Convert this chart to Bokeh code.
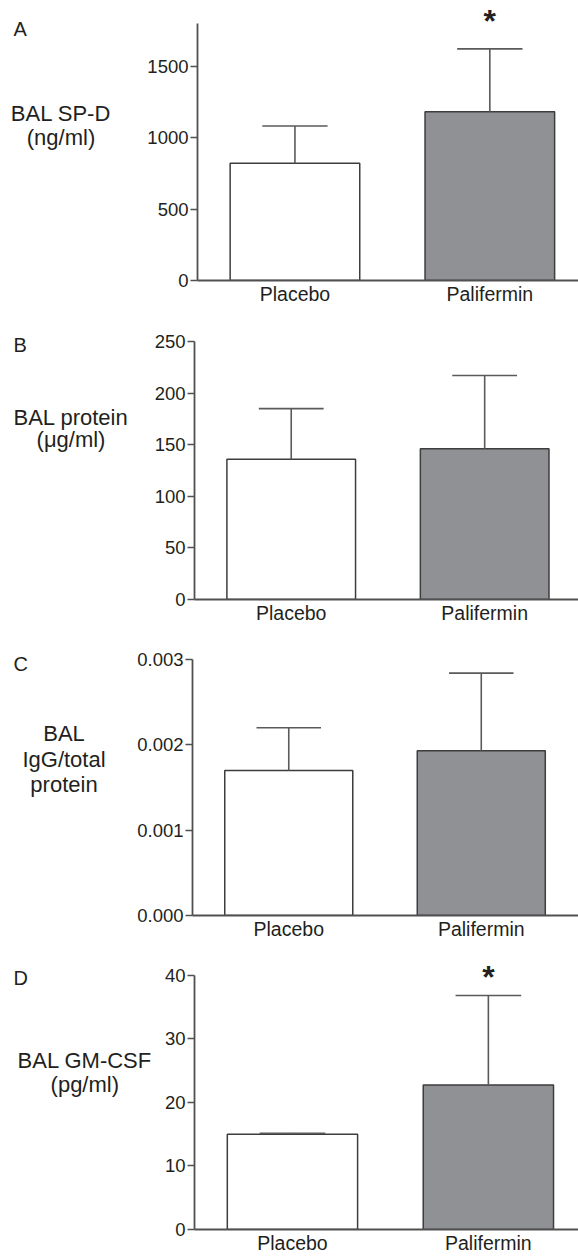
from bokeh.plotting import figure
from bokeh.models import FixedTicker, Range1d, Plot
from bokeh.layouts import column, row
from bokeh.core.properties import value
from bokeh.embed import file_html
from bokeh.resources import INLINE

groups = ["Placebo", "Palifermin"]
group_pos = [1, 3]

spd_mean = [820, 1180]
spd_err = [260, 440]
spd_ticks = [0, 500, 1000, 1500]
spd_tick_labels = ["0", "500", "1000", "1500"]

prot_mean = [136, 146]
prot_err = [49, 71]
prot_ticks = [0, 50, 100, 150, 200, 250]
prot_tick_labels = ["0", "50", "100", "150", "200", "250"]

igg_mean = [0.00170, 0.00193]
igg_err = [0.00050, 0.00091]
igg_ticks = [0.0, 0.001, 0.002, 0.003]
igg_tick_labels = ["0.000", "0.001", "0.002", "0.003"]

gm_mean = [15.0, 22.75]
gm_err = [0.15, 14.1]
gm_ticks = [0, 10, 20, 30, 40]
gm_tick_labels = ["0", "10", "20", "30", "40"]

FONT = "Liberation Sans"
TXT = "#231f20"
BAR_FILL = ["#ffffff", "#909194"]
BAR_LINE = "#3d3d3d"
ERR_COL = "#5a5a5a"
AXIS_COL = "#505050"
W = 578
HAS_FRAME_ALIGN = "frame_align" in Plot.properties()
TEXT_SHIFT = 5


def label_fig(width, height, letter, letter_base, ylab, ylab_cx, ylab_bases,
              top, bottom):
    if HAS_FRAME_ALIGN:
        bt, bb = 0, 0
    else:
        bt, bb = top, bottom
    q = figure(width=width, height=height, output_backend="svg", toolbar_location=None,
               x_range=Range1d(0, width), y_range=Range1d(height - bb, bt),
               x_axis_location=None, y_axis_location=None,
               min_border_left=0, min_border_right=0, min_border_top=bt,
               min_border_bottom=bb)
    if HAS_FRAME_ALIGN:
        q.frame_align = False
    q.outline_line_color = None
    q.xgrid.visible = False
    q.ygrid.visible = False
    q.text(x=[13], y=[letter_base - TEXT_SHIFT], text=[letter], text_font=value(FONT),
           text_font_size="20px", text_color=TXT, text_align="left",
           text_baseline="alphabetic")
    q.text(x=[ylab_cx] * len(ylab), y=[b - TEXT_SHIFT for b in ylab_bases], text=ylab,
           text_font=value(FONT), text_font_size="22px", text_color=TXT,
           text_align="center", text_baseline="alphabetic")
    return q


def panel(means, errs, ticks, tlabels, axis_top, y_px_per_unit,
          width, left, top, bottom, height, x_end, star=None):
    frame_h = height - top - bottom
    y_end = frame_h / y_px_per_unit

    p = figure(width=width, height=height, output_backend="svg", toolbar_location=None,
               x_range=Range1d(0, x_end), y_range=Range1d(0, y_end),
               min_border_left=left, min_border_right=0, min_border_top=top,
               min_border_bottom=bottom)
    if HAS_FRAME_ALIGN:
        p.frame_align = False
    p.outline_line_color = None
    p.xgrid.visible = False
    p.ygrid.visible = False
    p.background_fill_color = "white"

    p.vbar(x=group_pos, top=means, width=1.33, bottom=0, fill_color=BAR_FILL,
           line_color=BAR_LINE, line_width=1.5)
    uppers = [m + e for m, e in zip(means, errs)]
    p.segment(x0=group_pos, y0=means, x1=group_pos, y1=uppers,
              line_color=ERR_COL, line_width=1.6)
    p.segment(x0=[g - 0.335 for g in group_pos], y0=uppers,
              x1=[g + 0.335 for g in group_pos], y1=uppers,
              line_color=ERR_COL, line_width=1.6)

    ya = p.yaxis[0]
    ya.ticker = FixedTicker(ticks=ticks)
    ya.major_label_overrides = {t: l for t, l in zip(ticks, tlabels)}
    ya.bounds = (0, axis_top)
    ya.minor_tick_line_color = None
    ya.major_tick_out = 7
    ya.major_tick_in = 0
    ya.major_label_standoff = 2
    ya.axis_line_color = AXIS_COL
    ya.axis_line_width = 1.8
    ya.major_tick_line_color = AXIS_COL
    ya.major_tick_line_width = 1.5
    ya.major_label_text_font = FONT
    ya.major_label_text_font_size = "18.5px"
    ya.major_label_text_color = TXT

    xa = p.xaxis[0]
    xa.ticker = FixedTicker(ticks=group_pos)
    xa.major_label_overrides = {g: n for g, n in zip(group_pos, groups)}
    xa.minor_tick_line_color = None
    xa.major_tick_line_color = None
    xa.major_tick_out = 0
    xa.major_tick_in = 0
    xa.major_label_standoff = 2
    xa.axis_line_color = AXIS_COL
    xa.axis_line_width = 1.8
    xa.major_label_text_font = FONT
    xa.major_label_text_font_size = "19.5px"
    xa.major_label_text_color = TXT

    if star is not None:
        idx, star_center = star
        base_px = star_center + 3
        y_star = (height - bottom - base_px) / y_px_per_unit
        p.text(x=[group_pos[idx]], y=[y_star], text=["*"], text_font=value(FONT),
               text_font_size="32px", text_font_style="bold", text_color=TXT,
               text_align="center", text_baseline="alphabetic")
    return p


# Panel A
lwA = 130
lA = label_fig(lwA, 320, "A", 33.3, ["BAL SP-D", "(ng/ml)"], 60.5, [118.3, 141.7],
               top=0, bottom=40)
pA = panel(spd_mean, spd_err, spd_ticks, spd_tick_labels, 1800, 71.5 / 500,
           width=W - lwA, left=197 - lwA, top=0, bottom=40, height=320, x_end=3.91,
           star=(1, 17.5))
# Panel B
lwB = 130
lB = label_fig(lwB, 320, "B", 29.3, ["BAL protein", "(\u03bcg/ml)"], 70.5, [101.7, 124.3],
               top=21, bottom=41)
pB = panel(prot_mean, prot_err, prot_ticks, prot_tick_labels, 250, 258 / 250,
           width=W - lwB, left=194 - lwB, top=21, bottom=41, height=320, x_end=3.97)
# Panel C
lwC = 120
lC = label_fig(lwC, 310, "C", 28.3, ["BAL", "IgG/total", "protein"], 63.5,
               [98.3, 124, 149], top=19, bottom=35)
pC = panel(igg_mean, igg_err, igg_ticks, igg_tick_labels, 0.003, 256 / 0.003,
           width=W - lwC, left=192 - lwC, top=19, bottom=35, height=310, x_end=4.01)
# Panel D
lwD = 152
lD = label_fig(lwD, 306, "D", 32.7, ["BAL GM-CSF", "(pg/ml)"], 84.3, [115, 139],
               top=0, bottom=27)
pD = panel(gm_mean, gm_err, gm_ticks, gm_tick_labels, 40, 6.42,
           width=W - lwD, left=194 - lwD, top=0, bottom=24, height=306, x_end=3.92,
           star=(1, 23.3))

layout = column(row(lA, pA, spacing=0), row(lB, pB, spacing=0),
                row(lC, pC, spacing=0), row(lD, pD, spacing=0), spacing=0)
open("out.html", "w").write(file_html(layout, INLINE))
